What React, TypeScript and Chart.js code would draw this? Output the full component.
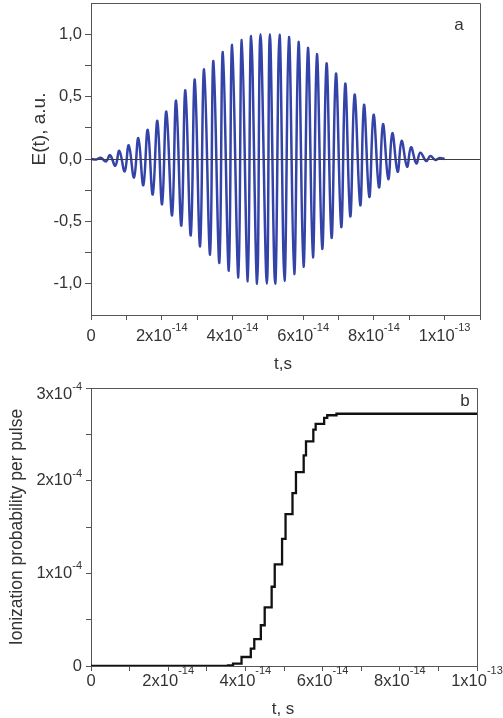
import React, { useEffect, useRef } from 'react';
import { Chart, registerables } from 'chart.js';

Chart.register(...registerables);

const FONT = '"Liberation Sans", Arial, sans-serif';
const TEXT = '#333333';
const AXIS = '#555555';

// ---------- Panel a: field extrema (time in 1e-14 s, field in a.u.) ----------
const fieldMaxTimes = [0.275, 0.538, 0.801, 1.067, 1.339, 1.605, 1.877, 2.131, 2.406, 2.669, 2.935, 3.198, 3.462, 3.728, 3.991, 4.265, 4.529, 4.792, 5.058, 5.33, 5.596, 5.868, 6.134, 6.388, 6.66, 6.926, 7.189, 7.453, 7.719, 7.99, 8.256, 8.52, 8.783, 9.049, 9.312, 9.595, 9.858];
const fieldMaxValues = [0.01, 0.03, 0.065, 0.11, 0.167, 0.234, 0.306, 0.38, 0.468, 0.55, 0.637, 0.718, 0.785, 0.857, 0.914, 0.954, 0.986, 1.0, 1.0, 0.995, 0.978, 0.938, 0.89, 0.84, 0.766, 0.685, 0.605, 0.516, 0.435, 0.355, 0.28, 0.207, 0.145, 0.094, 0.051, 0.024, 0.008];
const fieldMinTimes = [0.425, 0.688, 0.954, 1.217, 1.48, 1.746, 2.01, 2.293, 2.556, 2.822, 3.085, 3.368, 3.631, 3.898, 4.169, 4.435, 4.698, 4.973, 5.208, 5.471, 5.746, 6.009, 6.275, 6.538, 6.802, 7.076, 7.331, 7.614, 7.869, 8.143, 8.406, 8.67, 8.936, 9.199, 9.482, 9.737];
const fieldMinValues = [-0.02, -0.054, -0.1, -0.148, -0.21, -0.285, -0.363, -0.452, -0.535, -0.613, -0.7, -0.766, -0.833, -0.895, -0.949, -0.98, -1.0, -1.0, -1.0, -0.976, -0.922, -0.863, -0.788, -0.72, -0.632, -0.546, -0.46, -0.371, -0.304, -0.228, -0.161, -0.102, -0.062, -0.035, -0.016, -0.008];
const fieldEdgeTimes = [0, 0.15, 10];
const fieldEdgeValues = [0, -0.004, 0];

const xTickValuesA = [0, 2, 4, 6, 8, 10];
const xTickBaseA = ['0', '2x10', '4x10', '6x10', '8x10', '1x10'];
const xTickExpA = ['', '-14', '-14', '-14', '-14', '-13'];
const yTickValuesA = [-1, -0.5, 0, 0.5, 1];
const yTickLabelsA = ['-1,0', '-0,5', '0,0', '0,5', '1,0'];

// ---------- Panel b: ionization probability (time in 1e-14 s, prob in 1e-4) ----------
const stepTimes = [0, 3.55, 3.68, 3.9, 4.14, 4.23, 4.4, 4.5, 4.68, 4.76, 4.95, 5.04, 5.22, 5.31, 5.51, 5.57, 5.76, 5.82, 6.04, 6.12, 6.36, 10];
const stepProb = [0, 0.006, 0.026, 0.097, 0.188, 0.289, 0.44, 0.632, 0.855, 1.097, 1.371, 1.638, 1.866, 2.093, 2.273, 2.424, 2.551, 2.612, 2.677, 2.706, 2.722, 2.722];

const xTickValuesB = [0, 2, 4, 6, 8, 10];
const xTickBaseB = ['0', '2x10', '4x10', '6x10', '8x10', '1x10'];
const xTickExpB = ['', '-14', '-14', '-14', '-14', '-13'];
const yTickValuesB = [0, 1, 2, 3];
const yTickBaseB = ['0', '1x10', '2x10', '3x10'];
const yTickExpB = ['', '-4', '-4', '-4'];

function buildFieldPoints() {
  const pts: { x: number; y: number }[] = [];
  fieldMaxTimes.forEach((t, i) => pts.push({ x: t, y: fieldMaxValues[i] }));
  fieldMinTimes.forEach((t, i) => pts.push({ x: t, y: fieldMinValues[i] }));
  fieldEdgeTimes.forEach((t, i) => pts.push({ x: t, y: fieldEdgeValues[i] }));
  pts.sort((a, b) => a.x - b.x);
  return pts;
}

function drawSupLabel(ctx: CanvasRenderingContext2D, base: string, exp: string, x: number, y: number, align: 'center' | 'right', baseSize: number, expSize: number, raise: number) {
  ctx.font = `${baseSize}px ${FONT}`;
  const wb = ctx.measureText(base).width;
  ctx.font = `${expSize}px ${FONT}`;
  const we = exp ? ctx.measureText(exp).width : 0;
  const total = wb + we;
  const start = align === 'center' ? x - total / 2 : x - total;
  ctx.textAlign = 'left';
  ctx.textBaseline = 'middle';
  ctx.fillStyle = TEXT;
  ctx.font = `${baseSize}px ${FONT}`;
  ctx.fillText(base, start, y);
  if (exp) {
    ctx.font = `${expSize}px ${FONT}`;
    ctx.fillText(exp, start + wb, y - raise);
  }
}

function drawFrame(ctx: CanvasRenderingContext2D, a: any) {
  ctx.save();
  ctx.strokeStyle = AXIS;
  ctx.lineWidth = 1;
  ctx.beginPath();
  ctx.moveTo(Math.round(a.left) + 0.5, Math.round(a.top) + 0.5);
  ctx.lineTo(Math.round(a.right) + 0.5, Math.round(a.top) + 0.5);
  ctx.lineTo(Math.round(a.right) + 0.5, Math.round(a.bottom) + 0.5);
  ctx.stroke();
  ctx.restore();
}

function drawRotated(ctx: CanvasRenderingContext2D, text: string, x: number, y: number, size: number) {
  ctx.save();
  ctx.translate(x, y);
  ctx.rotate(-Math.PI / 2);
  ctx.font = `${size}px ${FONT}`;
  ctx.fillStyle = TEXT;
  ctx.textAlign = 'center';
  ctx.textBaseline = 'middle';
  ctx.fillText(text, 0, 0);
  ctx.restore();
}

const panelAPlugin = {
  id: 'panelA',
  afterDatasetsDraw(chart: any) {
    const { ctx, chartArea: a, scales } = chart;
    const y0 = Math.round(scales.y.getPixelForValue(0)) + 0.5;
    ctx.save();
    ctx.strokeStyle = '#3c3c3c';
    ctx.lineWidth = 1.2;
    ctx.beginPath();
    ctx.moveTo(a.left, y0);
    ctx.lineTo(a.right, y0);
    ctx.stroke();
    ctx.restore();
  },
  afterDraw(chart: any) {
    const { ctx, chartArea: a, scales } = chart;
    drawFrame(ctx, a);
    ctx.save();
    xTickValuesA.forEach((v, i) => {
      const px = scales.x.getPixelForValue(v);
      drawSupLabel(ctx, xTickBaseA[i], xTickExpA[i], px, 336, 'center', 16.5, 11, 8);
    });
    drawRotated(ctx, 'E(t), a.u.', 40, 129, 19);
    ctx.font = `17px ${FONT}`;
    ctx.fillStyle = TEXT;
    ctx.textAlign = 'center';
    ctx.textBaseline = 'middle';
    ctx.fillText('t,s', 283, 364);
    ctx.fillText('a', 459, 25);
    ctx.restore();
  },
};

const panelBPlugin = {
  id: 'panelB',
  afterDraw(chart: any) {
    const { ctx, chartArea: a, scales } = chart;
    drawFrame(ctx, a);
    ctx.save();
    xTickValuesB.forEach((v, i) => {
      const px = scales.x.getPixelForValue(v);
      drawSupLabel(ctx, xTickBaseB[i], xTickExpB[i], px, 321, 'center', 16.5, 11, 10);
    });
    const maxB = yTickValuesB[yTickValuesB.length - 1];
    yTickValuesB.forEach((v, i) => {
      let py = scales.y.getPixelForValue(v);
      if (v === maxB) py += 6;
      drawSupLabel(ctx, yTickBaseB[i], yTickExpB[i], 82, py, 'right', 16.5, 11, 7);
    });
    drawRotated(ctx, 'Ionization probability per pulse', 17.5, 167, 17.5);
    ctx.font = `17px ${FONT}`;
    ctx.fillStyle = TEXT;
    ctx.textAlign = 'center';
    ctx.textBaseline = 'middle';
    ctx.fillText('t, s', 283, 349);
    ctx.fillText('b', 465, 41);
    ctx.restore();
  },
};

function zeroPad(s: any) {
  s.paddingTop = 0;
  s.paddingBottom = 0;
  s.paddingLeft = 0;
  s.paddingRight = 0;
}

function axisCommon() {
  return {
    grid: { display: true, drawOnChartArea: false, drawTicks: true, tickLength: 5, color: AXIS, lineWidth: 1 },
    border: { display: true, color: AXIS, width: 1 },
  };
}

export default function App() {
  const topRef = useRef<HTMLCanvasElement>(null);
  const botRef = useRef<HTMLCanvasElement>(null);

  useEffect(() => {
    const top = new Chart(topRef.current as HTMLCanvasElement, {
      type: 'line',
      data: {
        datasets: [
          {
            data: buildFieldPoints(),
            borderColor: '#3443a8',
            borderWidth: 2.5,
            pointRadius: 0,
            tension: 0.4,
            fill: false,
          },
        ],
      },
      options: {
        animation: false,
        responsive: false,
        layout: { padding: { top: 3, right: 23, left: 0, bottom: 0 } },
        plugins: { legend: { display: false }, tooltip: { enabled: false }, title: { display: false } },
        scales: {
          x: {
            type: 'linear',
            min: 0,
            max: 11,
            ...axisCommon(),
            ticks: { stepSize: 1, autoSkip: false, callback: () => '', font: { size: 10 } },
            afterFit: (s: any) => { s.height = 65; zeroPad(s); },
          },
          y: {
            type: 'linear',
            min: -1.25,
            max: 1.25,
            ...axisCommon(),
            grid: { display: true, drawOnChartArea: false, drawTicks: true, tickLength: 6, color: AXIS, lineWidth: 1 },
            afterBuildTicks: (s: any) => {
              s.ticks = s.ticks.filter((t: any) => Math.abs(t.value) <= 1.0001);
            },
            ticks: {
              stepSize: 0.25,
              autoSkip: false,
              padding: 3,
              color: TEXT,
              font: { family: FONT, size: 16.5 },
              callback: (v: any) => {
                const idx = yTickValuesA.findIndex((t) => Math.abs(t - Number(v)) < 1e-6);
                return idx >= 0 ? yTickLabelsA[idx] : '';
              },
            },
            afterFit: (s: any) => { s.width = 91; zeroPad(s); },
          },
        },
      } as any,
      plugins: [panelAPlugin],
    });

    const bot = new Chart(botRef.current as HTMLCanvasElement, {
      type: 'line',
      data: {
        datasets: [
          {
            data: stepTimes.map((t, i) => ({ x: t, y: stepProb[i] })),
            borderColor: '#111111',
            borderWidth: 2.3,
            pointRadius: 0,
            stepped: true,
            fill: false,
          },
        ],
      },
      options: {
        animation: false,
        responsive: false,
        layout: { padding: { top: 28, right: 26, left: 0, bottom: 0 } },
        plugins: { legend: { display: false }, tooltip: { enabled: false }, title: { display: false } },
        scales: {
          x: {
            type: 'linear',
            min: 0,
            max: 10,
            ...axisCommon(),
            ticks: { stepSize: 1, autoSkip: false, callback: () => '', font: { size: 10 } },
            afterFit: (s: any) => { s.height = 52; zeroPad(s); },
          },
          y: {
            type: 'linear',
            min: 0,
            max: 3,
            ...axisCommon(),
            ticks: { stepSize: 0.5, autoSkip: false, callback: () => '', font: { size: 10 } },
            afterFit: (s: any) => { s.width = 91; zeroPad(s); },
          },
        },
      } as any,
      plugins: [panelBPlugin],
    });

    return () => {
      top.destroy();
      bot.destroy();
    };
  }, []);

  return (
    <div style={{ position: 'absolute', left: 0, top: 0, width: 503, height: 718, background: '#ffffff' }}>
      <canvas ref={topRef} width={503} height={380} style={{ position: 'absolute', left: 0, top: 0, width: 503, height: 380 }} />
      <canvas ref={botRef} width={503} height={358} style={{ position: 'absolute', left: 0, top: 360, width: 503, height: 358 }} />
    </div>
  );
}
